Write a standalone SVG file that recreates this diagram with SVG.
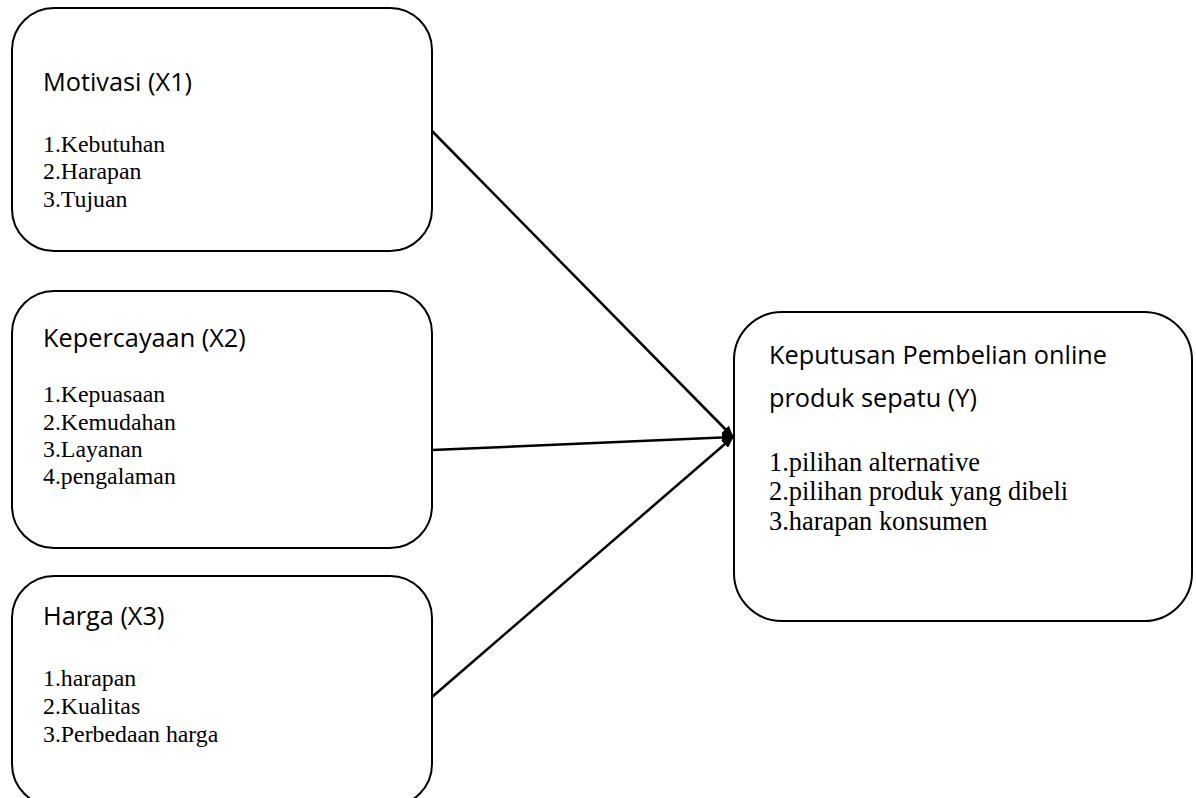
<svg xmlns="http://www.w3.org/2000/svg" width="1196" height="798" viewBox="0 0 1196 798">
<style>
.box{fill:#fff;stroke:#000;stroke-width:2}
.title{font-family:"Open Sans","Noto Sans",sans-serif;font-size:25.3px;fill:#000}
.body{font-family:"Liberation Serif","Times New Roman",serif;font-size:23.8px;fill:#000}
.bodyL{font-family:"Liberation Serif","Times New Roman",serif;font-size:26.4px;fill:#000}
.conn{stroke:#000;stroke-width:2.5;fill:none}
</style>
<defs>
<marker id="ah" markerWidth="12" markerHeight="10" refX="11" refY="5" orient="auto" markerUnits="userSpaceOnUse">
<path d="M0,0 L12,5 L0,10 Z" fill="#000"/>
</marker>
</defs>
<rect width="1196" height="798" fill="#fff"/>
<g id="x1">
<rect class="box" x="12" y="8" width="420" height="243" rx="42" ry="42"/>
<text class="title" x="43" y="91">Motivasi (X1)</text>
<text class="body" x="43" y="152">1.Kebutuhan</text>
<text class="body" x="43" y="179">2.Harapan</text>
<text class="body" x="43" y="207">3.Tujuan</text>
</g>
<g id="x2">
<rect class="box" x="12" y="291" width="420" height="257" rx="42" ry="42"/>
<text class="title" x="43" y="347">Kepercayaan (X2)</text>
<text class="body" x="43" y="402">1.Kepuasaan</text>
<text class="body" x="43" y="430">2.Kemudahan</text>
<text class="body" x="43" y="457">3.Layanan</text>
<text class="body" x="43" y="484">4.pengalaman</text>
</g>
<g id="x3">
<rect class="box" x="12" y="576" width="420" height="230" rx="42" ry="42"/>
<text class="title" x="43" y="625">Harga (X3)</text>
<text class="body" x="43" y="686">1.harapan</text>
<text class="body" x="43" y="714">2.Kualitas</text>
<text class="body" x="43" y="742">3.Perbedaan harga</text>
</g>
<g id="y">
<rect class="box" x="734" y="312" width="458" height="309" rx="48" ry="48"/>
<text class="title" x="769" y="364">Keputusan Pembelian online</text>
<text class="title" x="769" y="407">produk sepatu (Y)</text>
<text class="bodyL" x="769" y="471">1.pilihan alternative</text>
<text class="bodyL" x="769" y="500">2.pilihan produk yang dibeli</text>
<text class="bodyL" x="769" y="530">3.harapan konsumen</text>
</g>
<g id="connectors">
<line class="conn" x1="432" y1="131" x2="733" y2="437" marker-end="url(#ah)"/>
<line class="conn" x1="432" y1="450" x2="733" y2="437" marker-end="url(#ah)"/>
<line class="conn" x1="432" y1="697" x2="733" y2="437" marker-end="url(#ah)"/>
</g>
</svg>
